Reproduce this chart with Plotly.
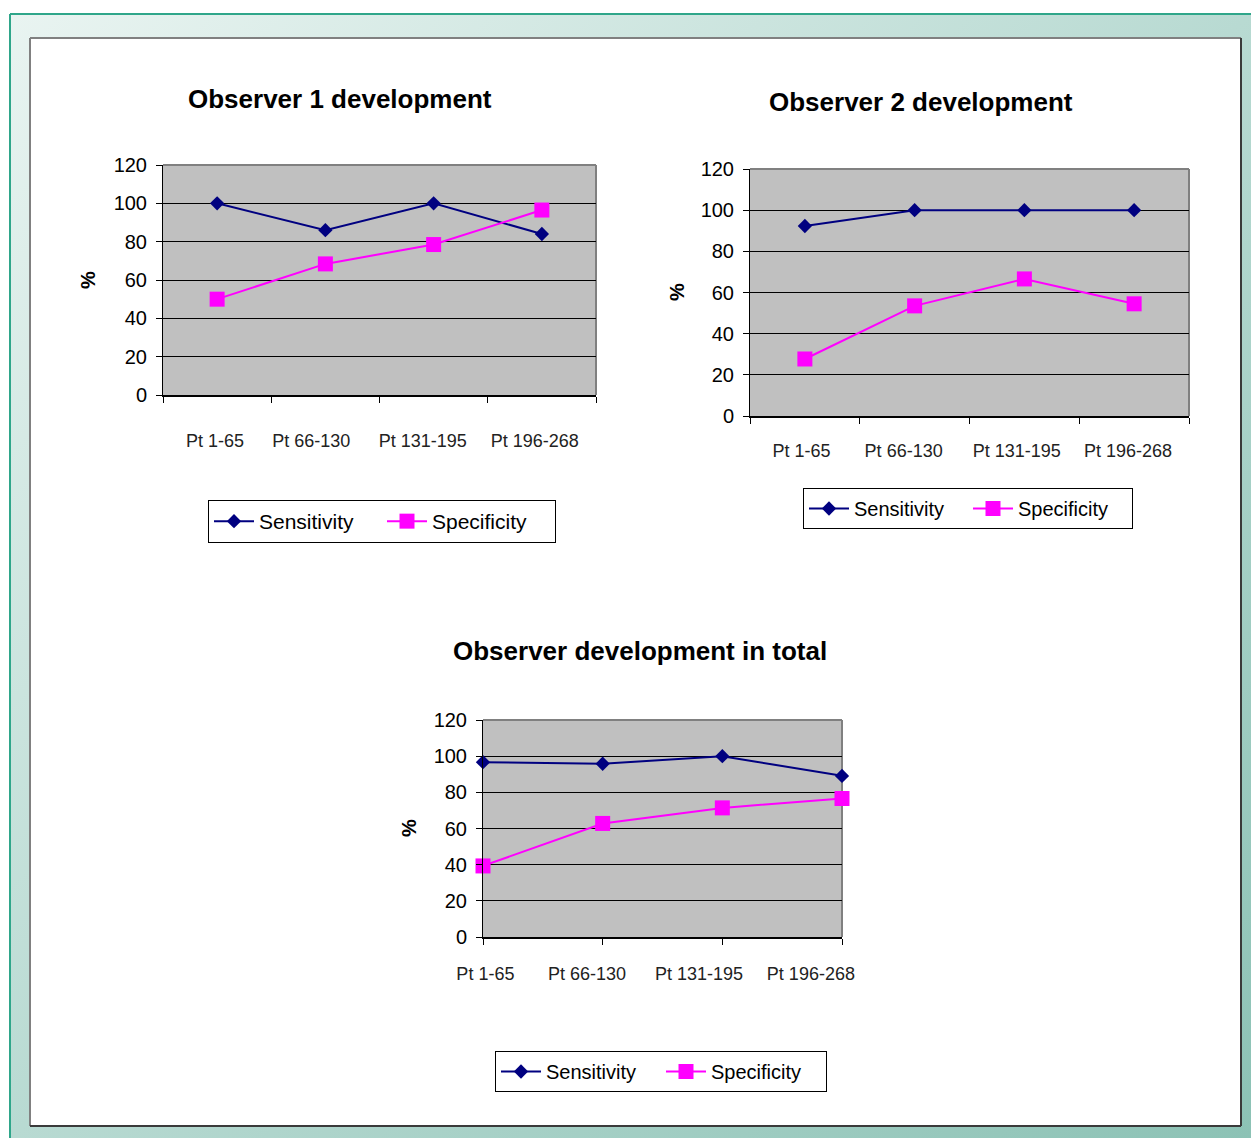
import base64
import plotly.graph_objects as go

W, H = 1251, 1138

categories = ["Pt 1-65", "Pt 66-130", "Pt 131-195", "Pt 196-268"]

obs1_sensitivity = [100, 86, 100, 84]
obs1_specificity = [50, 68.4, 78.5, 96.5]

obs2_sensitivity = [92.3, 100, 100, 100]
obs2_specificity = [27.7, 53.5, 66.6, 54.5]

total_sensitivity = [96.7, 95.8, 100, 89.1]
total_specificity = [39.3, 62.8, 71.4, 76.6]

titles = ["Observer 1 development", "Observer 2 development", "Observer development in total"]
y_ticks = [0, 20, 40, 60, 80, 100, 120]


def px(x):
    return x / W


def py(y):
    return 1 - y / H


NAVY = "#000080"
MAGENTA = "#FF00FF"
FONT = "Liberation Sans, Arial, sans-serif"

fig = go.Figure()

panels = [
    dict(sens=obs1_sensitivity, spec=obs1_specificity, box=(163, 596, 165, 395), on_ticks=False,
         offs=[-0.02, -0.13, -0.10, -0.065], standoff=28, title=titles[0], title_xy=(340, 99),
         pct_xy=(88, 280), legend_xy=(208, 500), legend_font=21, entrywidth=118),
    dict(sens=obs2_sensitivity, spec=obs2_specificity, box=(750, 1189, 169, 416), on_ticks=False,
         offs=[-0.03, -0.10, -0.07, -0.055], standoff=17, title=titles[1], title_xy=(921, 102),
         pct_xy=(677, 292), legend_xy=(803, 488), legend_font=20, entrywidth=109),
    dict(sens=total_sensitivity, spec=total_specificity, box=(483, 842, 720, 937), on_ticks=True,
         offs=[0.02, -0.13, -0.195, -0.26], standoff=19, title=titles[2], title_xy=(640, 651),
         pct_xy=(409, 828), legend_xy=(495, 1051), legend_font=20, entrywidth=110),
]

shapes = []
annotations = []
layout_axes = {}

# Background decoration
svg = ('<svg xmlns="http://www.w3.org/2000/svg" width="100" height="100" preserveAspectRatio="none">'
       '<defs><linearGradient id="g" x1="0" y1="0" x2="1" y2="1">'
       '<stop offset="0" stop-color="#e9f4f1"/><stop offset="0.5" stop-color="#b8dad2"/>'
       '<stop offset="1" stop-color="#8cc2b5"/></linearGradient></defs>'
       '<rect width="100" height="100" fill="url(#g)"/></svg>')
img_src = "data:image/svg+xml;base64," + base64.b64encode(svg.encode()).decode()
images = [dict(source=img_src, xref="paper", yref="paper", x=px(10), y=py(14),
               sizex=px(W) - px(10), sizey=py(14) - py(H), sizing="stretch",
               xanchor="left", yanchor="top", layer="below")]

shapes.append(dict(type="line", xref="paper", yref="paper", x0=px(10), x1=px(10), y0=py(14), y1=py(H),
                   line=dict(color="#2fa68a", width=2), layer="below"))
shapes.append(dict(type="line", xref="paper", yref="paper", x0=px(10), x1=px(W), y0=py(14), y1=py(14),
                   line=dict(color="#2fa68a", width=2), layer="below"))
shapes.append(dict(type="rect", xref="paper", yref="paper", x0=px(30), x1=px(1241), y0=py(1126), y1=py(38),
                   fillcolor="white", line=dict(width=0), layer="below"))
shapes.append(dict(type="line", xref="paper", yref="paper", x0=px(30), x1=px(30), y0=py(1126), y1=py(38),
                   line=dict(color="#808080", width=2), layer="below"))
shapes.append(dict(type="line", xref="paper", yref="paper", x0=px(30), x1=px(1241), y0=py(38), y1=py(38),
                   line=dict(color="#808080", width=2), layer="below"))
shapes.append(dict(type="line", xref="paper", yref="paper", x0=px(1241), x1=px(1241), y0=py(1126), y1=py(38),
                   line=dict(color="#3a3a3a", width=2), layer="below"))
shapes.append(dict(type="line", xref="paper", yref="paper", x0=px(30), x1=px(1241), y0=py(1126), y1=py(1126),
                   line=dict(color="#3a3a3a", width=2), layer="below"))

xpos = list(range(len(categories)))

for i, p in enumerate(panels):
    n = "" if i == 0 else str(i + 1)
    xa, ya = "x" + n, "y" + n
    leg = "legend" + n
    x0, x1, y0, y1 = p["box"]

    fig.add_trace(go.Scatter(x=xpos, y=p["sens"], name="Sensitivity", mode="lines+markers",
                             line=dict(color=NAVY, width=2), marker=dict(symbol="diamond", size=11, color=NAVY),
                             xaxis=xa, yaxis=ya, legend=leg, cliponaxis=False))
    fig.add_trace(go.Scatter(x=xpos, y=p["spec"], name="Specificity", mode="lines+markers",
                             line=dict(color=MAGENTA, width=2), marker=dict(symbol="square", size=15, color=MAGENTA),
                             xaxis=xa, yaxis=ya, legend=leg, cliponaxis=False))

    if p["on_ticks"]:
        xrange = [0, len(categories) - 1]
        tick0 = 0
    else:
        xrange = [-0.5, len(categories) - 0.5]
        tick0 = -0.5

    layout_axes["xaxis" + n] = dict(
        domain=[px(x0), px(x1)], range=xrange, anchor=ya, automargin=False,
        tickmode="array", tickvals=[v + o for v, o in zip(xpos, p["offs"])], ticktext=categories,
        ticks="", showgrid=False, zeroline=False, showline=True, linecolor="black", linewidth=2,
        tickfont=dict(size=18, color="#222222", family=FONT), ticklabelstandoff=p["standoff"],
        minor=dict(tick0=tick0, dtick=1, ticks="outside", ticklen=6, tickcolor="black", tickwidth=1, showgrid=False),
        fixedrange=True,
    )
    layout_axes["yaxis" + n] = dict(
        domain=[py(y1), py(y0)], range=[0, 120], anchor=xa, automargin=False,
        tickmode="array", tickvals=y_ticks, ticks="outside", ticklen=6, tickcolor="black",
        showgrid=True, gridcolor="black", gridwidth=1, zeroline=False,
        showline=True, linecolor="black", linewidth=1,
        tickfont=dict(size=20, color="black", family=FONT), ticklabelstandoff=5,
        fixedrange=True,
    )

    shapes.append(dict(type="rect", xref=xa + " domain", yref=ya + " domain", x0=0, x1=1, y0=0, y1=1,
                       fillcolor="#C0C0C0", line=dict(width=0), layer="below"))
    shapes.append(dict(type="line", xref=xa + " domain", yref=ya + " domain", x0=0, x1=1, y0=1, y1=1,
                       line=dict(color="#808080", width=2), layer="below"))
    shapes.append(dict(type="line", xref=xa + " domain", yref=ya + " domain", x0=1, x1=1, y0=0, y1=1,
                       line=dict(color="#808080", width=2), layer="below"))

    tx, ty = p["title_xy"]
    annotations.append(dict(text="<b>" + p["title"] + "</b>", xref="paper", yref="paper", x=px(tx), y=py(ty),
                            xanchor="center", yanchor="middle", showarrow=False,
                            font=dict(size=26, color="black", family=FONT)))
    qx, qy = p["pct_xy"]
    annotations.append(dict(text="<b>%</b>", xref="paper", yref="paper", x=px(qx), y=py(qy),
                            xanchor="center", yanchor="middle", showarrow=False, textangle=-90,
                            font=dict(size=20, color="black", family=FONT)))

    lx, ly = p["legend_xy"]
    layout_axes[leg] = dict(x=px(lx), y=py(ly), xanchor="left", yanchor="top", orientation="h",
                            bgcolor="white", bordercolor="black", borderwidth=1,
                            font=dict(size=p["legend_font"], color="black", family=FONT), itemwidth=40,
                            entrywidth=p["entrywidth"], tracegroupgap=0)

fig.update_layout(
    template="none",
    width=W, height=H, margin=dict(l=0, r=0, t=0, b=0, pad=0, autoexpand=False),
    paper_bgcolor="white", plot_bgcolor="rgba(0,0,0,0)",
    font=dict(family=FONT, color="black"),
    shapes=shapes, annotations=annotations, images=images,
    **layout_axes,
)

fig.write_html("out.html")
